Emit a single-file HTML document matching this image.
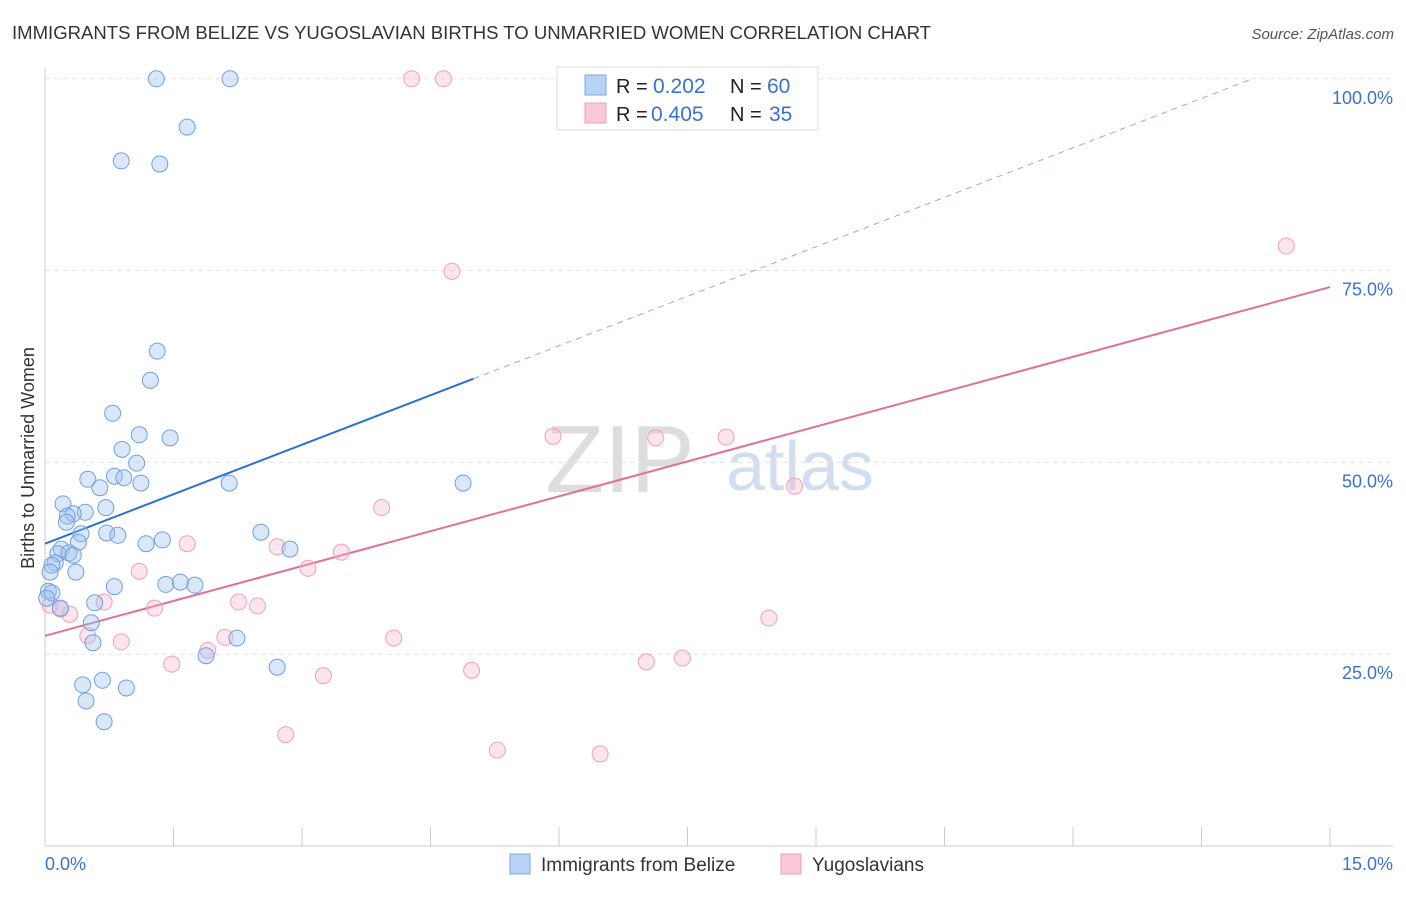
<!DOCTYPE html>
<html><head><meta charset="utf-8"><style>
body{margin:0;background:#fff;font-family:"Liberation Sans",sans-serif;}
svg text{font-family:"Liberation Sans",sans-serif;}
</style></head><body>
<svg id="chart" width="1406" height="892">
<text x="12" y="39" font-size="18" fill="#333" textLength="919" lengthAdjust="spacingAndGlyphs">IMMIGRANTS FROM BELIZE VS YUGOSLAVIAN BIRTHS TO UNMARRIED WOMEN CORRELATION CHART</text>
<text x="1394" y="39" font-size="15" fill="#555" font-style="italic" text-anchor="end">Source: ZipAtlas.com</text>
<text x="0" y="0" transform="translate(34,458) rotate(-90)" font-size="18" fill="#333" text-anchor="middle">Births to Unmarried Women</text>
<text x="620" y="492" font-size="96" fill="#ddd" font-family="Liberation Serif" text-anchor="middle">ZIP</text>
<text x="800" y="490" font-size="70" fill="#d0def0" text-anchor="middle">atlas</text>
<g id="grid"></g><g id="axes"></g><g id="lines"></g><g id="points"></g>
<g>
<rect x="557" y="67" width="261" height="63" fill="#fff" stroke="#ddd"/>
<rect x="585" y="75" width="21" height="20" fill="#b8d2f5" stroke="#7aa9e6"/>
<rect x="585" y="103" width="21" height="20" fill="#fbc8d7" stroke="#eea0b8"/>
<text x="616" y="93" font-size="20" fill="#222">R =</text>
<text x="653" y="93" font-size="21" fill="#3a72d0">0.202</text>
<text x="730" y="93" font-size="20" fill="#222">N =</text>
<text x="767" y="93" font-size="21" fill="#3a72d0">60</text>
<text x="616" y="121" font-size="20" fill="#222">R =</text>
<text x="651" y="121" font-size="21" fill="#3a72d0">0.405</text>
<text x="730" y="121" font-size="20" fill="#222">N =</text>
<text x="769" y="121" font-size="21" fill="#3a72d0">35</text>
</g>
<g>
<rect x="510" y="854" width="20" height="20" fill="#b8d2f5" stroke="#7aa9e6"/>
<text x="541" y="871" font-size="19" fill="#333">Immigrants from Belize</text>
<rect x="781" y="854" width="20" height="20" fill="#fbc8d7" stroke="#eea0b8"/>
<text x="812" y="871" font-size="19" fill="#333">Yugoslavians</text>
</g>
</svg>
<script>
const blueX=[1.30,2.16,1.66,0.89,1.34,1.31,1.23,0.79,1.10,1.46,0.90,1.07,0.50,0.81,0.92,1.12,0.64,2.15,4.88,0.21,0.71,0.47,0.33,0.26,0.25,0.42,0.72,0.85,0.39,1.18,1.37,2.52,2.86,0.19,0.15,0.28,0.33,0.12,0.08,0.06,0.36,0.81,1.41,1.58,1.75,0.04,0.08,0.58,0.18,0.54,2.24,0.56,1.88,0.44,0.67,0.95,2.71,0.48,0.69,0.02];
const blueY=[100,100,93.7,89.3,88.9,64.5,60.7,56.4,53.6,53.2,51.7,49.9,47.8,48.2,48.0,47.3,46.7,47.3,47.3,44.6,44.1,43.5,43.3,43.0,42.2,40.7,40.8,40.5,39.6,39.4,39.9,40.9,38.7,38.7,38.1,38.2,37.9,36.9,36.6,35.7,35.7,33.8,34.1,34.4,34.0,33.2,33.0,31.7,31.0,29.1,27.1,26.5,24.8,21.0,21.6,20.6,23.3,18.9,16.2,32.3];
const pinkX=[4.28,4.65,4.75,14.49,5.93,7.13,7.95,8.75,3.93,1.66,2.71,3.46,3.07,1.10,2.26,2.48,1.28,0.69,0.29,0.50,0.89,2.10,1.90,4.07,8.45,1.48,3.25,4.98,7.02,7.44,2.81,5.28,6.48,0.06,0.18];
const pinkY=[100,100,74.9,78.2,53.4,53.2,53.3,46.9,44.1,39.4,39.0,38.3,36.2,35.8,31.8,31.3,31.0,31.8,30.2,27.4,26.6,27.2,25.5,27.1,29.7,23.7,22.2,22.9,24.0,24.5,14.5,12.5,12.0,31.4,30.9];
const yTicks=[25,50,75,100];
const yTickLabels=["25.0%","50.0%","75.0%","100.0%"];
const xTicks=[0,1.5,3,4.5,6,7.5,9,10.5,12,13.5,15];
const blueFit=[39.4,4.3];
const pinkFit=[27.4,3.03];
const blueSolidEnd=5.0, blueDashEnd=14.1;
const NS="http://www.w3.org/2000/svg";
const sx=v=>45+v*1285/15, sy=v=>846-v*7.672;
function mk(tag,attrs,parent){const e=document.createElementNS(NS,tag);for(const k in attrs)e.setAttribute(k,attrs[k]);document.getElementById(parent).appendChild(e);return e;}
yTicks.forEach((t,i)=>{
 const g=mk('line',{x1:45,x2:1393,y1:sy(t),y2:sy(t),stroke:'#e2e2e2','stroke-dasharray':'5,4'},'grid');
 
 
 const l=mk('text',{x:1393,y:sy(t)+25,'font-size':18,fill:'#3a72d0','text-anchor':'end'},'axes');
 l.textContent=yTickLabels[i];
 
 
});
let a=mk('line',{x1:45,x2:45,y1:68,y2:846,stroke:'#ccc'},'axes');


a=mk('line',{x1:45,x2:1393,y1:846,y2:846,stroke:'#ccc'},'axes');


xTicks.forEach(t=>{const k=mk('line',{x1:sx(t),x2:sx(t),y1:827,y2:846,stroke:'#ccc'},'axes');
 
 });
let t0=mk('text',{x:45,y:870,'font-size':18,fill:'#3a72d0'},'axes');t0.textContent='0.0%';


let t1=mk('text',{x:1393,y:870,'font-size':18,fill:'#3a72d0','text-anchor':'end'},'axes');t1.textContent='15.0%';


const fy=(f,x)=>f[0]+f[1]*x;
let ln=mk('line',{x1:sx(0),y1:sy(fy(blueFit,0)),x2:sx(blueSolidEnd),y2:sy(fy(blueFit,blueSolidEnd)),stroke:'#2a6fd6','stroke-width':2},'lines');


ln=mk('line',{x1:sx(blueSolidEnd),y1:sy(fy(blueFit,blueSolidEnd)),x2:sx(blueDashEnd),y2:sy(fy(blueFit,blueDashEnd)),stroke:'#8ab0e0','stroke-width':1,'stroke-dasharray':'6,5'},'lines');


ln=mk('line',{x1:sx(0),y1:sy(fy(pinkFit,0)),x2:sx(15),y2:sy(fy(pinkFit,15)),stroke:'#e0709a','stroke-width':2},'lines');


pinkX.forEach((x,i)=>{const c=mk('circle',{cx:sx(x),cy:sy(pinkY[i]),r:8,fill:'rgba(248,180,202,0.35)',stroke:'#eea0b8','stroke-width':1},'points');
 
 });
blueX.forEach((x,i)=>{const c=mk('circle',{cx:sx(x),cy:sy(blueY[i]),r:8,fill:'rgba(160,196,240,0.4)',stroke:'#6fa0e0','stroke-width':1},'points');
 
 });
</script>
</body></html>
